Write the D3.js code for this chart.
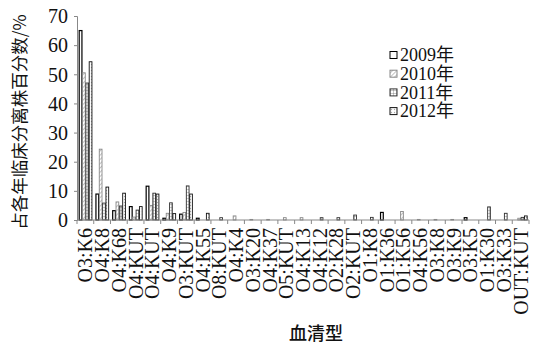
<!DOCTYPE html>
<html><head><meta charset="utf-8">
<script src="https://cdn.jsdelivr.net/npm/d3@7"></script>
<style>body{margin:0;background:#fff}svg{display:block}</style>
</head><body>
<svg id="c" width="538" height="345"></svg>
<script>
const categories = ["O3:K6","O4:K8","O4:K68","O4:KUT","O4:KUT","O4:K9","O3:KUT","O4:K55","O8:KUT","O4:K4","O3:K20","O4:K37","O5:KUT","O4:K13","O4:K12","O2:K28","O2:KUT","O1:K8","O1:K36","O1:K56","O4:K56","O3:K8","O3:K9","O3:K5","O1:K30","O3:K33","OUT:KUT"];
const seriesNames = ["2009年","2010年","2011年","2012年"];
const v2009 = [65,8.9,3.2,4.6,11.6,0.6,2.0,0.6,0,0,0,0,0,0,0,0,0,0,2.6,0,0,0,0,0.8,0,0,0];
const v2010 = [50.5,24.3,6.2,1.0,5.0,2.3,2.6,0,0,1.4,0.2,0.2,0.8,0.8,0,0,0,0,0,2.9,0.2,0.2,0.2,0,0,0,0.6];
const v2011 = [47,5.8,4.8,3.4,9.2,5.9,11.7,0,0.8,0,0,0,0,0,0.8,0.8,1.7,0.9,0,0,0,0,0,0,4.5,2.3,0.9];
const v2012 = [54.3,11.3,9.2,4.6,8.9,2.2,8.9,2.3,0,0,0,0,0,0,0,0,0,0,0,0,0,0,0,0,0,0,1.4];
const yTicks = [0,10,20,30,40,50,60,70];
const yTitle = "占各年临床分离株百分数/%";
const xTitle = "血清型";

const series = [v2009,v2010,v2011,v2012];
const svg = d3.select("#c");
const L = 77, R = 529, T = 16, B = 220;
const x0 = d3.scaleBand().domain(d3.range(categories.length)).range([L,R]).padding(0);
const x1 = d3.scaleBand().domain(d3.range(4)).range([1.7, x0.bandwidth()-1.7]).padding(0);
const y = d3.scaleLinear().domain([0,70]).range([B,T]);

const defs = svg.append("defs");
const p1 = defs.append("pattern").attr("id","p2010").attr("patternUnits","userSpaceOnUse").attr("width",3).attr("height",3).attr("patternTransform","rotate(45)");
p1.append("rect").attr("width",3).attr("height",3).attr("fill","#fff");
p1.append("line").attr("x1",0).attr("y1",0).attr("x2",0).attr("y2",3).attr("stroke","#999").attr("stroke-width",1.2);
const p2 = defs.append("pattern").attr("id","p2011").attr("patternUnits","userSpaceOnUse").attr("width",3).attr("height",3);
p2.append("rect").attr("width",3).attr("height",3).attr("fill","#fff");
p2.append("path").attr("d","M0,0H3M0,0V3").attr("stroke","#666").attr("stroke-width",0.7).attr("fill","none");
const p3 = defs.append("pattern").attr("id","p2012").attr("patternUnits","userSpaceOnUse").attr("width",3).attr("height",3);
p3.append("rect").attr("width",3).attr("height",3).attr("fill","#fff");
p3.append("circle").attr("cx",1.5).attr("cy",1.5).attr("r",0.7).attr("fill","#aaa");

const fills = ["#fff","url(#p2010)","url(#p2011)","url(#p2012)"];
const strokes = ["#000","#888","#333","#111"];

const yAxis = d3.axisLeft(y).tickValues(yTicks).tickSize(3).tickPadding(6).tickFormat(d3.format("d"));
const gy = svg.append("g").attr("transform",`translate(${L},0)`).call(yAxis);
gy.selectAll("path,line").attr("stroke","#888");
gy.selectAll("text").attr("font-family","'Liberation Serif',serif").attr("font-size",20).attr("fill","#111").attr("dy","0.34em");

categories.forEach((c,i)=>{
  series.forEach((s,k)=>{
    const v = s[i];
    if(!v) return;
    svg.append("rect")
      .attr("x", x0(i)+x1(k)+0.5)
      .attr("y", y(v))
      .attr("width", x1.bandwidth()-0.6)
      .attr("height", B - y(v))
      .attr("fill", fills[k])
      .attr("stroke", strokes[k])
      .attr("stroke-width", k===0?1.2:0.9);
  });
});

const gx = svg.append("g").attr("transform",`translate(0,${B})`);
gx.append("line").attr("x1",L).attr("x2",R).attr("stroke","#888");
d3.range(categories.length+1).forEach(i=>{
  const xx = i<categories.length ? x0(i) : R;
  gx.append("line").attr("x1",xx).attr("x2",xx).attr("y1",0).attr("y2",4).attr("stroke","#888");
});
categories.forEach((c,i)=>{
  const cx = x0(i)+x0.bandwidth()/2;
  gx.append("text").text(c)
    .attr("transform",`translate(${cx+7},8) rotate(-90)`)
    .attr("text-anchor","end")
    .attr("font-family","'Liberation Serif',serif").attr("font-size",20).attr("fill","#111");
});

svg.append("text").text(yTitle)
  .attr("transform","translate(26,122) rotate(-90)")
  .attr("text-anchor","middle")
  .attr("font-family","'Noto Sans CJK SC',sans-serif").attr("font-size",17.5).attr("fill","#111");
svg.append("text").text(xTitle).attr("x",316).attr("y",340).attr("text-anchor","middle")
  .attr("font-family","'Noto Sans CJK SC',sans-serif").attr("font-size",18).attr("font-weight",500).attr("fill","#111");

const lg = svg.append("g");
seriesNames.forEach((n,k)=>{
  const yy = 55 + k*18.7;
  lg.append("rect").attr("x",390).attr("y",yy-3.5).attr("width",7).attr("height",7)
    .attr("fill",fills[k]).attr("stroke",strokes[k]).attr("stroke-width",1);
  lg.append("text").attr("x",400).attr("y",yy).attr("dy","0.35em")
    .attr("font-family","'Liberation Serif','Noto Sans CJK SC',serif").attr("font-size",18).attr("fill","#111")
    .text(n);
});
</script>
</body></html>
